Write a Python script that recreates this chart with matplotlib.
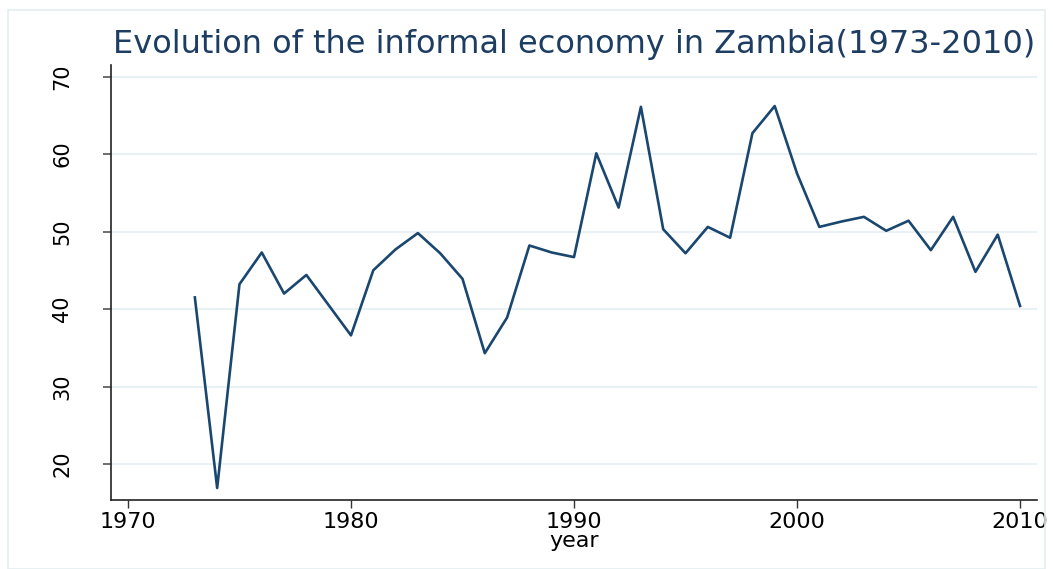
import matplotlib.pyplot as plt
from matplotlib.patches import Rectangle

years = list(range(1973, 2011))
informal = [41.5, 16.9, 43.2, 47.3, 42.0, 44.4, 40.5, 36.6, 45.0, 47.7,
            49.8, 47.2, 43.9, 34.3, 38.9, 48.2, 47.3, 46.7, 60.1, 53.1,
            66.1, 50.3, 47.2, 50.6, 49.2, 62.7, 66.2, 57.5, 50.6, 51.3,
            51.9, 50.1, 51.4, 47.6, 51.9, 44.8, 49.6, 40.4]

x_ticks = [1970, 1980, 1990, 2000, 2010]
y_ticks = [20, 30, 40, 50, 60, 70]

navy = '#1a476f'
plt.rcParams['font.family'] = ['DejaVu Sans']

fig = plt.figure(figsize=(10.53, 5.69), dpi=100)
fig.patches.append(Rectangle((8 / 1053, 0), 1 - 16 / 1053, 1 - 10 / 569,
                             transform=fig.transFigure, fill=False,
                             edgecolor='#e4edf0', linewidth=1.2))

ax = fig.add_axes([111 / 1053, 1 - 500 / 569, 926 / 1053, 435 / 569])
ax.plot(years, informal, color=navy, linewidth=1.9)

ax.set_xlim(1969.24, 2010.76)
ax.set_ylim(15.35, 71.5)
ax.set_xticks(x_ticks)
ax.set_yticks(y_ticks)
ax.grid(axis='y', color='#eaf1f4', linewidth=1.5)
ax.set_axisbelow(True)

for side in ['top', 'right']:
    ax.spines[side].set_visible(False)
for side in ['left', 'bottom']:
    ax.spines[side].set_color('#222222')
    ax.spines[side].set_linewidth(1.2)

ax.tick_params(axis='x', length=6, width=1, color='#333333', labelsize=16, pad=3)
ax.tick_params(axis='y', length=6, width=1.2, color='#555555', labelsize=15, pad=22)
for lab in ax.get_yticklabels():
    lab.set_rotation(90)
    lab.set_va('center')

ax.set_xlabel('year', fontsize=16, labelpad=-1)
fig.suptitle('Evolution of the informal economy in Zambia(1973-2010)',
             x=574 / 1053, y=1 - 45 / 569, va='center', fontsize=23, color='#1d3d63')

fig.savefig('out.png', dpi=100)
